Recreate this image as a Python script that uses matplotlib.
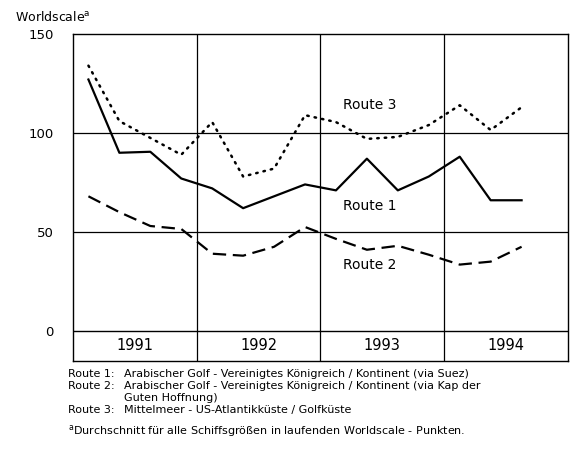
import matplotlib.pyplot as plt
import numpy as np

# quarterly values, 1991 Q1 .. 1994 Q3
route1 = [127, 90, 90.5, 77, 72, 62, 68, 74, 71, 87, 71, 78, 88, 66, 66]
route2 = [68, 60, 53, 51.5, 39, 38, 42.5, 52.5, 46.5, 41, 43, 38.5, 33.5, 35, 42.5]
route3 = [134, 106, 97.5, 89, 105.5, 78, 82, 109, 105.5, 97, 98, 104, 114, 101.5, 113]
years = ["1991", "1992", "1993", "1994"]
yticks = [0, 50, 100, 150]

note_labels = ["Route 1:", "Route 2:", "", "Route 3:"]
note_texts = [
    "Arabischer Golf - Vereinigtes Königreich / Kontinent (via Suez)",
    "Arabischer Golf - Vereinigtes Königreich / Kontinent (via Kap der",
    "Guten Hoffnung)",
    "Mittelmeer - US-Atlantikküste / Golfküste",
]

plt.rcParams["font.family"] = ["DejaVu Sans"]

fig = plt.figure(figsize=(5.70, 4.76), dpi=100)
ax = fig.add_axes([0.128, 0.2416, 0.8685, 0.687])

x = (np.arange(len(route1)) + 0.5) / 4
ax.plot(x, route1, color="black", lw=1.6, ls="-")
ax.plot(x, route2, color="black", lw=1.6, ls=(0, (6, 3)))
ax.plot(x, route3, color="black", lw=1.8, ls=(0, (0.6, 2.4)), dash_capstyle="round")

ax.set_xlim(0, 4)
ax.set_ylim(-15.2, 150)

for y in [50, 100]:
    ax.axhline(y, color="black", lw=0.9, zorder=0)
ax.axhline(0, color="black", lw=1.0, zorder=0)
for xv in [1, 2, 3]:
    ax.axvline(xv, color="black", lw=0.9, zorder=0)

for i, yr in enumerate(years):
    ax.text(i + 0.5, -7.6, yr, ha="center", va="center", fontsize=10.5)

ax.set_xticks([])
ax.set_yticks(yticks)
ax.set_yticklabels([str(v) for v in yticks], fontsize=9.5)
ax.tick_params(axis="y", length=0, pad=14)
for s in ax.spines.values():
    s.set_linewidth(1.0)

ax.text(2.4, 114, "Route 3", ha="center", va="center", fontsize=10)
ax.text(2.4, 63, "Route 1", ha="center", va="center", fontsize=10)
ax.text(2.4, 33.5, "Route 2", ha="center", va="center", fontsize=10)

fig.text(15 / 570, 1 - 17 / 476, "Worldscale$^{\\mathrm{a}}$", fontsize=9, va="center")

ys = [374, 386, 398, 410]
for lab, txt, yp in zip(note_labels, note_texts, ys):
    if lab:
        fig.text(68 / 570, 1 - yp / 476, lab, fontsize=8, va="center")
    fig.text(124 / 570, 1 - yp / 476, txt, fontsize=8, va="center")
fig.text(68 / 570, 1 - 431 / 476,
         "$^{\\mathrm{a}}$Durchschnitt für alle Schiffsgrößen in laufenden Worldscale - Punkten.",
         fontsize=8, va="center")

fig.savefig("out.png", dpi=100)
